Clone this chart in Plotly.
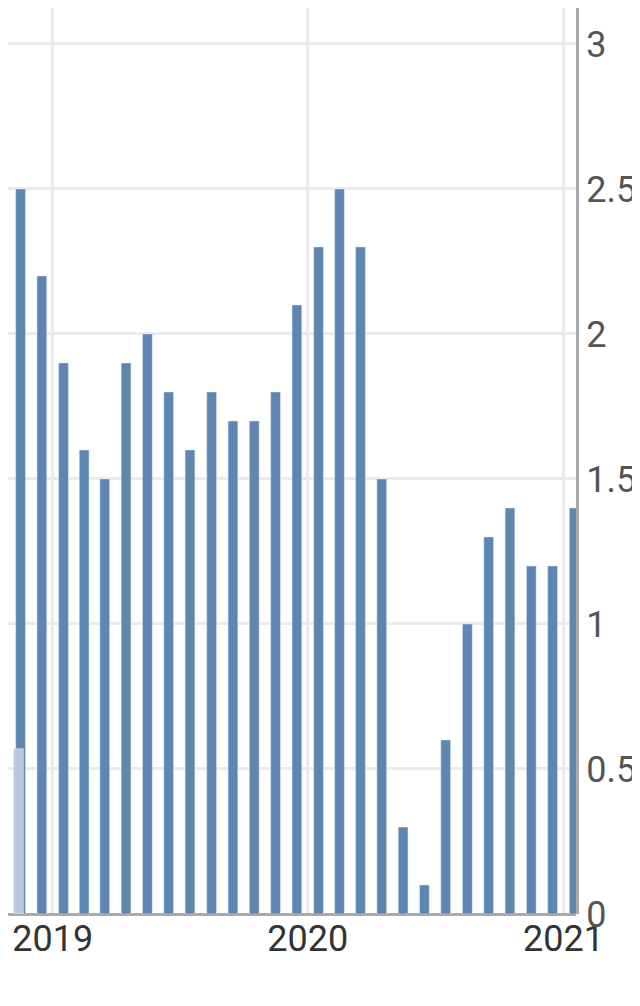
import plotly.graph_objects as go

months = ["2018-11-01","2018-12-01","2019-01-01","2019-02-01","2019-03-01","2019-04-01","2019-05-01",
          "2019-06-01","2019-07-01","2019-08-01","2019-09-01","2019-10-01","2019-11-01","2019-12-01",
          "2020-01-01","2020-02-01","2020-03-01","2020-04-01","2020-05-01","2020-06-01","2020-07-01",
          "2020-08-01","2020-09-01","2020-10-01","2020-11-01","2020-12-01","2021-01-01"]
values = [2.5,2.2,1.9,1.6,1.5,1.9,2.0,1.8,1.6,1.8,1.7,1.7,1.8,2.1,2.3,2.5,2.3,1.5,0.3,0.1,0.6,1.0,1.3,1.4,1.2,1.2,1.4]
light_x = ["2018-11-01"]
light_v = [0.57]

DAY = 86400000
fig = go.Figure()
fig.add_bar(x=months, y=values, marker_color="#5f86b0", width=14*DAY,
            xperiod="M1", xperiodalignment="middle", showlegend=False)
fig.add_bar(x=light_x, y=light_v, marker_color="#b9cadd", width=14*DAY, offset=-10*DAY,
            xperiod="M1", xperiodalignment="middle", showlegend=False)
fig.update_layout(
    width=640, height=1006, barmode="overlay",
    margin=dict(l=0, r=72, t=0, b=100),
    plot_bgcolor="white", paper_bgcolor="white",
    font=dict(family="Roboto", size=36, color="#555"),
    xaxis=dict(range=["2018-10-29","2021-01-19"], dtick="M12", tick0="2019-01-01", tickformat="%Y",
               showgrid=True, gridcolor="#ebebeb", gridwidth=3, ticks="", tickfont=dict(color="#333"),
               automargin=False, ticklabeloverflow="allow"),
    yaxis=dict(side="right", range=[0,3.124], dtick=0.5, showgrid=True, gridcolor="#ebebeb", gridwidth=3,
               showline=True, linecolor="#aaa", linewidth=3, zeroline=True, zerolinecolor="#aaa", zerolinewidth=3,
               automargin=False, ticklabeloverflow="allow"),
)
fig.write_html("out.html")
